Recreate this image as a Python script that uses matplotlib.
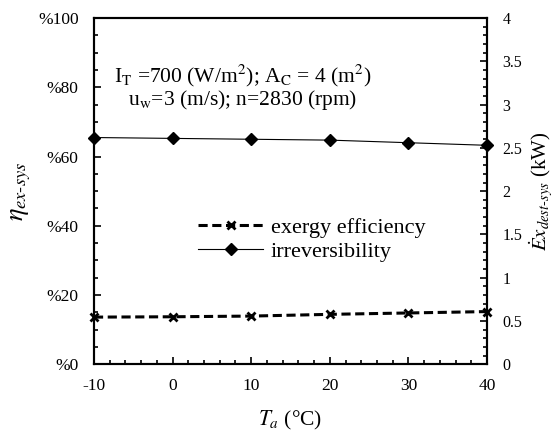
import matplotlib
matplotlib.use("Agg")
import matplotlib.pyplot as plt
from matplotlib.ticker import MultipleLocator

plt.rcParams['font.family'] = ['Liberation Serif', 'DejaVu Serif']
plt.rcParams['mathtext.fontset'] = 'stix'
plt.rcParams['axes.unicode_minus'] = False

# data
temps = [-10, 0, 10, 20, 30, 40]
exergy_eff = [13.6, 13.7, 13.9, 14.4, 14.8, 15.2]       # %
irreversibility = [2.62, 2.61, 2.60, 2.59, 2.56, 2.53]  # kW
left_ticks = [0, 20, 40, 60, 80, 100]
right_ticks = [0, 0.5, 1, 1.5, 2, 2.5, 3, 3.5, 4]

fig = plt.figure(figsize=(5.56, 4.32), dpi=100)
ax = fig.add_axes([0.169, 0.157, 0.707, 0.801])
ax2 = ax.twinx()

l1, = ax.plot(temps, exergy_eff, color='black', ls=(0, (3, 1.5)), lw=2.2,
              marker='x', ms=6, mew=2, label='exergy efficiency', clip_on=False, zorder=5)
l2, = ax2.plot(temps, irreversibility, color='black', lw=0.8,
               marker='D', ms=6, label='irreversibility', clip_on=False, zorder=5)

ax.set_xlim(-10, 40)
ax.set_ylim(0, 100)
ax2.set_ylim(0, 4)

ax.xaxis.set_major_locator(MultipleLocator(10))
ax.xaxis.set_minor_locator(MultipleLocator(2))
ax.set_yticks(left_ticks)
ax.set_yticklabels(['%' + str(v) for v in left_ticks])
ax.yaxis.set_minor_locator(MultipleLocator(5))
ax2.set_yticks(right_ticks)
ax2.set_yticklabels([('%g' % v) for v in right_ticks])
ax2.yaxis.set_minor_locator(MultipleLocator(0.1))

ax.tick_params(axis='both', which='both', direction='in', labelsize=12.5)
ax.tick_params(axis='x', which='both', top=False, pad=10)
ax.tick_params(axis='y', which='both', pad=11)
ax.tick_params(which='major', length=5, width=1.2)
ax.tick_params(which='minor', length=3, width=1.2)
ax2.tick_params(which='both', direction='in', labelsize=11.5, width=1.2, pad=11)
ax2.tick_params(which='major', length=5)
ax2.tick_params(which='minor', length=3)

for a in (ax, ax2):
    for s in a.spines.values():
        s.set_linewidth(1.5)

ax.set_xlabel(r'$T_a$ (°C)', fontsize=15.5, labelpad=11)
ax.set_ylabel(r'$\eta_{ex\text{-}sys}$', fontsize=19, labelpad=4)
ax2.set_ylabel(r'$\dot{E}x_{dest\text{-}sys}$ (kW)', fontsize=15, labelpad=4)

ax.text(0.377, 0.80, r'I$_\mathrm{T}$ =700 (W/m$^2$); A$_\mathrm{C}$ = 4 (m$^2$)'
        '\n' r'u$_\mathrm{w}$=3 (m/s); n=2830 (rpm)',
        transform=ax.transAxes, ha='center', va='center', fontsize=15.5,
        linespacing=0.95)

ax2.legend(handles=[l1, l2], loc='center left', bbox_to_anchor=(0.215, 0.36),
           frameon=False, fontsize=16, handlelength=2.9, labelspacing=0.15,
           handletextpad=0.35)

fig.savefig('out.png', dpi=100)
